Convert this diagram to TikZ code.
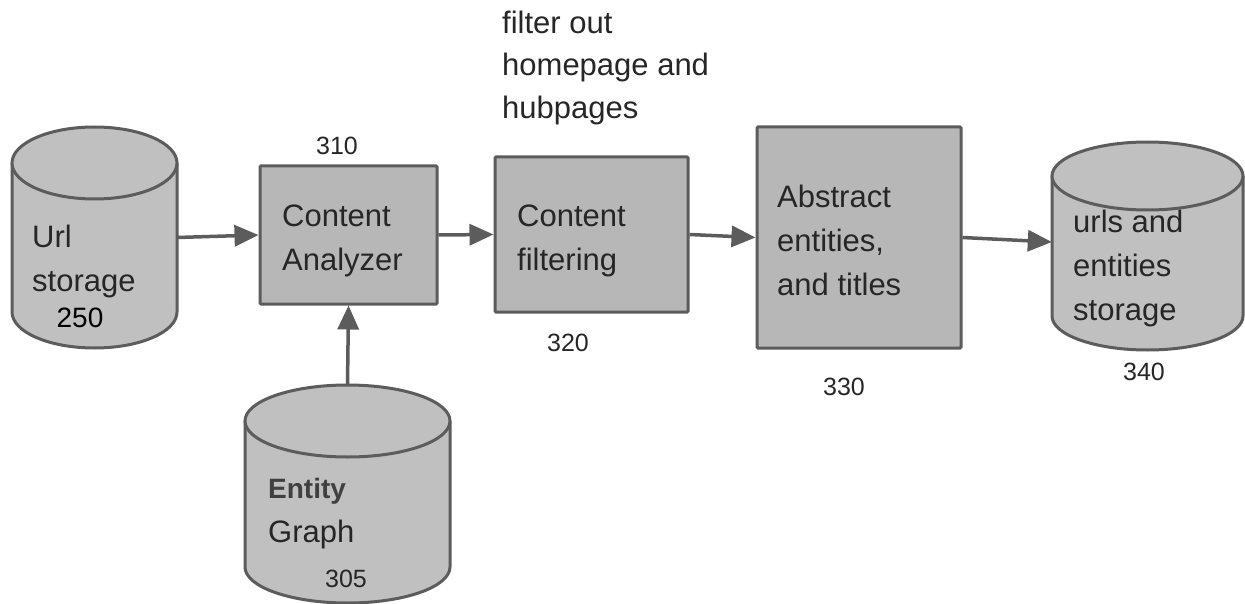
\documentclass[tikz,border=0pt]{standalone}
\usepackage{fontspec}
\setmainfont{Liberation Sans}
\usetikzlibrary{arrows.meta}

\definecolor{edge}{RGB}{92,92,92}
\definecolor{boxgray}{RGB}{183,183,183}
\definecolor{cylgray}{RGB}{192,192,192}
\definecolor{ink}{RGB}{38,38,38}
\definecolor{softink}{RGB}{64,64,64}

\tikzset{
  stage/.style={draw=edge, fill=boxgray, line width=3pt, inner sep=0pt, rounded corners=1pt},
  caption/.style={font=\fontsize{31}{44}\selectfont, text=ink, align=left,
                  anchor=north west, inner sep=0pt},
  refnum/.style={font=\fontsize{25}{30}\selectfont, text=ink, inner sep=0pt},
  flow/.style={draw=edge, line width=3.5pt, -{Triangle[length=24pt,width=21pt]}},
  cylline/.style={draw=edge, line width=3pt},
  hull/.style={inner sep=0pt, draw=none, fill=none}
}

% drum body: left x, right x, lid centre y, base centre y, ellipse y radius
\newcommand{\drumbody}[5]{%
  \pgfmathsetmacro\drumrx{(#2-#1)/2}%
  \fill[cylgray] (#1,#3) -- (#1,#4)
    arc[start angle=180, end angle=0, x radius=\drumrx, y radius=#5] -- (#2,#3) -- cycle;
  \draw[cylline] (#1,#3) -- (#1,#4)
    arc[start angle=180, end angle=0, x radius=\drumrx, y radius=#5] -- (#2,#3);
}
% drum lid: left x, right x, lid centre y, ellipse y radius
\newcommand{\drumlid}[4]{%
  \pgfmathsetmacro\drumrx{(#2-#1)/2}%
  \pgfmathsetmacro\drumcx{(#1+#2)/2}%
  \path[fill=cylgray, cylline] (\drumcx,#3) ellipse[x radius=\drumrx, y radius=#4];
}

\begin{document}
\begin{tikzpicture}[x=1pt, y=1pt, yscale=-1]
\useasboundingbox (0,0) rectangle (1245,604);

% ---- storage drums ----
\drumbody{12}{177}{163}{312}{36}
\node[caption] (urltxt) at (32,224.5) {Url\\storage};
\node[refnum, font=\fontsize{28}{32}\selectfont, text=black] (n250) at (80,318) {250};
\drumlid{12}{177}{163}{36}
\node[hull, minimum width=165pt, minimum height=149pt] (url) at (94.5,237.5) {};

\drumbody{245}{450}{421}{567}{36}
\node[caption] (enttxt) at (268,478)
  {{\fontsize{28}{44}\selectfont\bfseries\color{softink}Entity}\\Graph};
\node[refnum] (n305) at (346,579) {305};
\drumlid{245}{450}{421}{36}
\node[hull, minimum width=205pt, minimum height=218pt] (ent) at (347.5,494) {};

\drumbody{1052}{1243}{176}{316}{34}
\node[caption] (sttxt) at (1073,209.5) {urls and\\entities\\storage};
\drumlid{1052}{1243}{176}{34}
\node[refnum] (n340) at (1144,372) {340};
\node[hull, minimum width=191pt, minimum height=140pt] (st) at (1147.5,242) {};

% ---- processing stages ----
\node[stage, minimum width=177pt, minimum height=138pt] (ca) at (348.5,235) {};
\node[caption] (catxt) at (282,204.5) {Content\\Analyzer};
\node[refnum] (n310) at (337,146) {310};

\node[stage, minimum width=193pt, minimum height=155pt] (cf) at (591.5,234.5) {};
\node[caption] (cftxt) at (517,204.5) {Content\\filtering};
\node[refnum] (n320) at (568,343) {320};
\node[caption, font=\fontsize{31}{42.5}\selectfont] (note) at (502,10.5)
  {filter out\\homepage and\\hubpages};

\node[stage, minimum width=204pt, minimum height=221pt] (ab) at (859,237.5) {};
\node[caption] (abtxt) at (777,184.5) {Abstract\\entities,\\and titles};
\node[refnum] (n330) at (844,387) {330};

% ---- data flow ----
\draw[flow] (url.east) -- (ca.west);
\draw[flow] (ent.north) -- (ca.south);
\draw[flow] (ca.east) -- (cf.west);
\draw[flow] (cf.east) -- (ab.west);
\draw[flow] (ab.east) -- (st.west);
\end{tikzpicture}
\end{document}
